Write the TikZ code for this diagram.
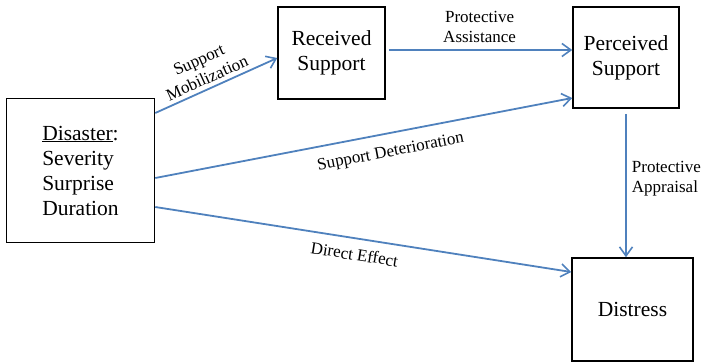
\documentclass[tikz,border=0pt]{standalone}
\usepackage{fontspec}
\setmainfont{Liberation Serif}
\usetikzlibrary{arrows.meta}
\definecolor{pathblue}{HTML}{4F81BD}
\tikzset{
  box/.style={draw=black, line width=1.5pt, fill=white, inner sep=0pt,
    font=\fontsize{21.5}{25}\selectfont, align=center},
  arr/.style={draw=pathblue, line width=1.8pt,
    -{Straight Barb[length=9pt,width=13pt,line width=1.6pt]}},
  lbl/.style={font=\fontsize{17}{20}\selectfont, align=center, text=black, inner sep=3pt}
}
\begin{document}
\begin{tikzpicture}[x=1pt,y=-1pt]
\useasboundingbox (0,0) rectangle (707,362);

% boxes
\node[box, minimum width=148pt, minimum height=144pt, align=left] (dis) at (80.5,170.5)
  {\underline{Disaster}:\\Severity\\Surprise\\Duration};
\node[box, minimum width=107pt, minimum height=92pt] (rec) at (331.5,53) {Received\\Support};
\node[box, minimum width=106pt, minimum height=101pt] (per) at (626,57.5) {Perceived\\Support};
\node[box, minimum width=121pt, minimum height=103pt] (dst) at (632.5,309.5) {Distress};

% paths
\draw[arr] ([yshift=57.5pt]dis.east) -- ([yshift=-5pt]rec.west)
  node[lbl, sloped, above, pos=0.46, yshift=1pt] {Support\\Mobilization};
\draw[arr] ([xshift=3pt,yshift=3pt]rec.east) -- ([yshift=7.5pt]per.west)
  node[lbl, above, pos=0.495, yshift=3pt] {Protective\\Assistance};
\draw[arr] ([yshift=-7.5pt]dis.east) -- ([yshift=-40.5pt]per.west)
  node[lbl, sloped, below=8pt, pos=0.556] {Support Deterioration};
\draw[arr] ([yshift=-5pt]per.south) -- (per.south |- dst.north)
  node[lbl, right, align=left, pos=0.45, xshift=2pt] {Protective\\Appraisal};
\draw[arr] ([yshift=-36.5pt]dis.east) -- ([yshift=37.5pt]dst.west)
  node[lbl, sloped, below=6pt, pos=0.485] {Direct Effect};
\end{tikzpicture}
\end{document}
